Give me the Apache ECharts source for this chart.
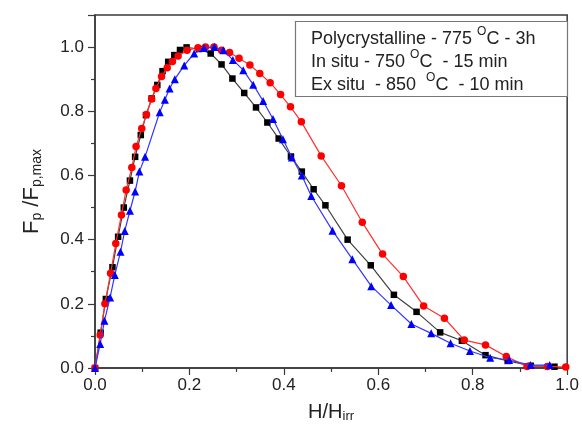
<!DOCTYPE html>
<html>
<head>
<meta charset="utf-8">
<script src="https://cdn.jsdelivr.net/npm/echarts@6/dist/echarts.min.js"></script>
<style>html,body{margin:0;padding:0;background:#fff;}#c{width:582px;height:434px;}</style>
</head>
<body>
<div id="c"></div>
<script>
// Polycrystalline (black squares)
const polyX = [0, 0.012, 0.023, 0.037, 0.049, 0.061, 0.074, 0.085, 0.097, 0.108, 0.12, 0.132, 0.143, 0.155, 0.168, 0.18, 0.194, 0.22, 0.245, 0.268, 0.291, 0.316, 0.341, 0.365, 0.389, 0.415, 0.438, 0.463, 0.488, 0.535, 0.584, 0.633, 0.681, 0.731, 0.777, 0.827, 0.874, 0.923, 0.973];
const polyY = [0, 0.11, 0.215, 0.314, 0.409, 0.50, 0.584, 0.658, 0.726, 0.788, 0.84, 0.882, 0.925, 0.954, 0.975, 0.991, 0.999, 0.994, 0.98, 0.946, 0.902, 0.857, 0.812, 0.765, 0.715, 0.659, 0.612, 0.557, 0.507, 0.40, 0.32, 0.228, 0.175, 0.111, 0.085, 0.04, 0.022, 0.007, 0.004];
// In situ (red circles)
const inSituX = [0, 0.011, 0.021, 0.033, 0.044, 0.056, 0.066, 0.078, 0.087, 0.099, 0.109, 0.12, 0.129, 0.141, 0.153, 0.164, 0.176, 0.195, 0.218, 0.234, 0.252, 0.268, 0.285, 0.305, 0.328, 0.349, 0.371, 0.393, 0.414, 0.437, 0.479, 0.522, 0.566, 0.609, 0.653, 0.696, 0.74, 0.782, 0.827, 0.871, 0.915, 0.958, 0.997];
const inSituY = [0, 0.103, 0.20, 0.295, 0.388, 0.477, 0.555, 0.625, 0.69, 0.746, 0.79, 0.838, 0.871, 0.908, 0.936, 0.955, 0.972, 0.99, 0.998, 1.0, 1.0, 0.99, 0.983, 0.965, 0.944, 0.918, 0.889, 0.852, 0.814, 0.767, 0.661, 0.568, 0.454, 0.355, 0.285, 0.193, 0.155, 0.087, 0.072, 0.036, 0.005, 0.005, 0.003];
// Ex situ (blue triangles)
const exSituX = [0, 0.011, 0.02, 0.032, 0.042, 0.054, 0.063, 0.074, 0.085, 0.094, 0.106, 0.137, 0.148, 0.158, 0.169, 0.189, 0.21, 0.231, 0.253, 0.272, 0.292, 0.314, 0.335, 0.356, 0.377, 0.398, 0.417, 0.438, 0.458, 0.503, 0.545, 0.585, 0.627, 0.67, 0.712, 0.753, 0.794, 0.837, 0.877, 0.922, 0.963];
const exSituY = [0, 0.075, 0.147, 0.22, 0.29, 0.362, 0.427, 0.49, 0.55, 0.612, 0.658, 0.797, 0.836, 0.871, 0.9, 0.943, 0.98, 0.997, 1.0, 0.99, 0.96, 0.928, 0.883, 0.832, 0.776, 0.713, 0.656, 0.60, 0.536, 0.428, 0.339, 0.255, 0.196, 0.137, 0.108, 0.077, 0.053, 0.032, 0.025, 0.009, 0.009];

const legendLines = [
  ['Polycrystalline - 775 ', 'O', 'C - 3h'],
  ['In situ - 750 ', 'O', 'C  - 15 min'],
  ['Ex situ  - 850  ', 'O', 'C  - 10 min']
];

function pairs(xs, ys) { return xs.map((x, i) => [x, ys[i]]); }

const chart = echarts.init(document.getElementById('c'), null, {renderer: 'canvas'});
const FONT = 'Liberation Sans, Arial, sans-serif';
const axisCol = '#3a3a3a';

const legendTexts = legendLines.map((l, i) => ({
  type: 'text',
  left: 311,
  top: 26 + i * 23,
  style: {
    text: '{a|' + l[0] + '}{s|' + l[1] + '}{a|' + l[2] + '}',
    rich: {
      a: {fontSize: 18, fontFamily: FONT, fill: '#222', lineHeight: 21},
      s: {fontSize: 12, fontFamily: FONT, fill: '#222', lineHeight: 26, verticalAlign: 'top'}
    }
  },
  z: 100
}));

chart.setOption({
  animation: false,
  backgroundColor: '#fff',
  grid: {left: 95, right: 13, top: 15, bottom: 66, show: true, borderColor: axisCol, borderWidth: 1.5, backgroundColor: 'transparent'},
  xAxis: {
    type: 'value', min: 0, max: 1, interval: 0.2,
    splitLine: {show: false},
    axisLine: {lineStyle: {color: axisCol, width: 1.5}},
    axisTick: {show: true, length: 7, inside: false, lineStyle: {color: axisCol, width: 1.2}},
    minorTick: {show: true, splitNumber: 2, length: 4, lineStyle: {color: axisCol, width: 1.2}},
    axisLabel: {fontSize: 17, fontFamily: FONT, color: '#222', margin: 9, formatter: v => v.toFixed(1)},
    name: '{h|H/H}{sub|irr}', nameLocation: 'middle', nameGap: 33,
    nameTextStyle: {rich: {
      h: {fontSize: 20, fontFamily: FONT, color: '#222', lineHeight: 22},
      sub: {fontSize: 13, fontFamily: FONT, color: '#222', lineHeight: 4, verticalAlign: 'bottom'}
    }}
  },
  yAxis: {
    type: 'value', min: 0, max: 1.1, interval: 0.2,
    splitLine: {show: false},
    axisLine: {lineStyle: {color: axisCol, width: 1.5}},
    axisTick: {show: true, length: 7, inside: false, lineStyle: {color: axisCol, width: 1.2}},
    minorTick: {show: true, splitNumber: 2, length: 4, lineStyle: {color: axisCol, width: 1.2}},
    axisLabel: {fontSize: 17, fontFamily: FONT, color: '#222', margin: 11, showMaxLabel: false,
      formatter: v => (Math.abs(v * 5 - Math.round(v * 5)) < 1e-6 ? v.toFixed(1) : '')},
    name: '{h|F}{sub|p}{h| /F}{sub|p,max}', nameLocation: 'middle', nameGap: 51, nameRotate: 90,
    nameTextStyle: {rich: {
      h: {fontSize: 22, fontFamily: FONT, color: '#222', lineHeight: 24},
      sub: {fontSize: 14, fontFamily: FONT, color: '#222', lineHeight: 4, verticalAlign: 'bottom'}
    }}
  },
  series: [
    {type: 'line', name: 'Polycrystalline', data: pairs(polyX, polyY), symbol: 'rect', symbolSize: 6.5,
     lineStyle: {color: '#404040', width: 1.2}, itemStyle: {color: '#000'}, z: 2},
    {type: 'line', name: 'In situ', data: pairs(inSituX, inSituY), symbol: 'circle', symbolSize: 7.5,
     lineStyle: {color: '#ff3030', width: 1.2}, itemStyle: {color: '#ff0000'}, z: 3},
    {type: 'line', name: 'Ex situ', data: pairs(exSituX, exSituY), symbol: 'triangle', symbolSize: 8,
     lineStyle: {color: '#3535ff', width: 1.2}, itemStyle: {color: '#0000ff'}, z: 4}
  ],
  graphic: [
    {type: 'rect', shape: {x: 295.5, y: 21.5, width: 272, height: 75}, style: {fill: '#fff', stroke: '#777', lineWidth: 1.2}, z: 99}
  ].concat(legendTexts)
});
</script>
</body>
</html>
